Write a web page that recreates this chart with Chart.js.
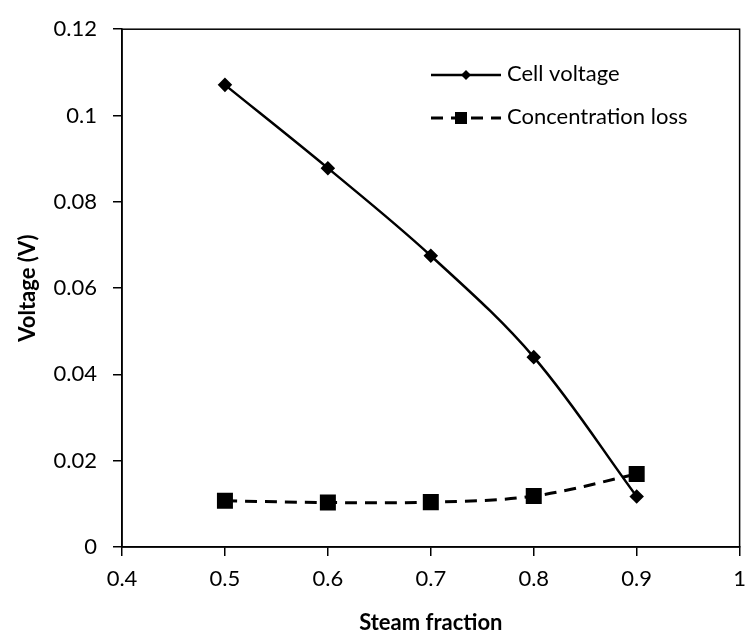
<!DOCTYPE html>
<html>
<head>
<meta charset="utf-8">
<style>
  html, body { margin: 0; padding: 0; background: #fff; }
  canvas { display: block; }
</style>
<script src="https://cdn.jsdelivr.net/npm/chart.js@4"></script>
</head>
<body>
<canvas id="voltChart" width="756" height="637"></canvas>
<script>
// steam fraction vs. voltage
const steamFraction = [0.5, 0.6, 0.7, 0.8, 0.9];
const cellVoltage = [0.1071, 0.0878, 0.0675, 0.0440, 0.0117];
const concentrationLoss = [0.0107, 0.0103, 0.0104, 0.0118, 0.0169];
const seriesNames = ['Cell voltage', 'Concentration loss'];

const FONT = 'Lato, "Liberation Sans", sans-serif';

const toPoints = ys => steamFraction.map((x, i) => ({ x: x, y: ys[i] }));

// frame round the plot plus a legend sitting inside it
const framePlugin = {
    id: 'frame',
    afterDraw(chart) {
        const { ctx, chartArea: a } = chart;
        ctx.save();
        ctx.strokeStyle = '#000';
        ctx.lineWidth = 1.5;
        ctx.strokeRect(a.left, a.top, a.right - a.left, a.bottom - a.top);

        const rows = [
            { ds: chart.data.datasets[0], y: 75, mx: 466 },
            { ds: chart.data.datasets[1], y: 118, mx: 461 }
        ];
        rows.forEach(r => {
            ctx.save();
            ctx.strokeStyle = '#000';
            ctx.lineWidth = r.ds.borderWidth;
            ctx.setLineDash(r.ds.borderDash || []);
            ctx.beginPath();
            ctx.moveTo(431, r.y);
            ctx.lineTo(501, r.y);
            ctx.stroke();
            ctx.restore();
            Chart.helpers.drawPoint(ctx, {
                pointStyle: r.ds.pointStyle,
                radius: r.ds.legendRadius,
                borderWidth: 0
            }, r.mx, r.y);
            ctx.fillStyle = '#000';
            ctx.font = '22px ' + FONT;
            ctx.textBaseline = 'middle';
            ctx.textAlign = 'left';
            ctx.fillText(r.ds.label, 507, r.y - 1);
        });
        ctx.restore();
    }
};

const ctx = document.getElementById('voltChart').getContext('2d');
const voltChart = new Chart(ctx, {
    type: 'line',
    data: {
        datasets: [{
            label: seriesNames[0],
            data: toPoints(cellVoltage),
            borderColor: '#000',
            backgroundColor: '#000',
            borderWidth: 2.5,
            pointStyle: 'rectRot',
            pointRadius: 5.5,
            legendRadius: 5,
            tension: 0.35,
            fill: false
        }, {
            label: seriesNames[1],
            data: toPoints(concentrationLoss),
            borderColor: '#000',
            backgroundColor: '#000',
            borderWidth: 3,
            borderDash: [12, 8],
            pointStyle: 'rect',
            pointRadius: 9.2,
            legendRadius: 8.5,
            tension: 0.35,
            fill: false
        }]
    },
    options: {
        responsive: false,
        animation: false,
        layout: { padding: { top: 19, right: 0, left: 0, bottom: 0 } },
        plugins: {
            legend: { display: false },
            tooltip: { enabled: false }
        },
        scales: {
            x: {
                type: 'linear',
                min: 0.4,
                max: 1,
                afterFit(scale) { scale.height = 90; },
                border: { display: true, color: '#000', width: 1.5 },
                grid: {
                    drawOnChartArea: false,
                    tickLength: 9,
                    color: '#000',
                    lineWidth: 1.5
                },
                ticks: {
                    stepSize: 0.1,
                    padding: 10,
                    color: '#000',
                    font: { family: FONT, size: 22 },
                    callback: v => String(+v.toFixed(1))
                },
                title: {
                    display: true,
                    text: 'Steam fraction',
                    color: '#000',
                    font: { family: FONT, size: 22, weight: 'bold' },
                    padding: { top: 0, bottom: 1 }
                }
            },
            y: {
                min: 0,
                max: 0.12,
                afterFit(scale) { scale.width = 122; },
                border: { display: true, color: '#000', width: 1.5 },
                grid: {
                    drawOnChartArea: false,
                    tickLength: 9,
                    color: '#000',
                    lineWidth: 1.5
                },
                ticks: {
                    stepSize: 0.02,
                    padding: 16,
                    color: '#000',
                    font: { family: FONT, size: 22 },
                    callback: v => String(+v.toFixed(2))
                },
                title: {
                    display: true,
                    text: 'Voltage (V)',
                    color: '#000',
                    font: { family: FONT, size: 22, weight: 'bold' },
                    padding: { top: 15, bottom: 0 }
                }
            }
        }
    },
    plugins: [framePlugin]
});
</script>
</body>
</html>
